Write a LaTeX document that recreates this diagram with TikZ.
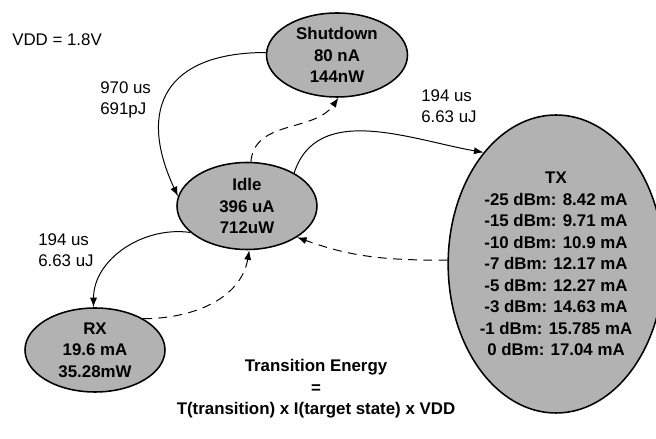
\documentclass[tikz,border=0pt]{standalone}
\usepackage{fontspec}
\setmainfont{Liberation Sans}
\usetikzlibrary{shapes.geometric,arrows.meta}
\tikzset{
  state/.style={ellipse, draw=black, line width=1.1pt, fill=black!30, inner sep=0pt, align=center, font=\fontsize{12}{15.3}\selectfont\bfseries},
  hop/.style={draw=black, line width=0.7pt, -{Latex[length=2.4mm,width=1.8mm]}},
  hopback/.style={hop, dash pattern=on 2.2mm off 1.6mm},
  note/.style={inner sep=0pt, anchor=west, align=left, font=\fontsize{12}{15.3}\selectfont},
  formula/.style={inner sep=0pt, align=center, font=\fontsize{12}{15.3}\selectfont\bfseries},
}
\begin{document}
\begin{tikzpicture}
\useasboundingbox (0,0) rectangle (16.4,10.975);
\node[state, minimum width=3.525cm, minimum height=2.1cm] (shutdown) at (8.425,9.6) {Shutdown\\80 nA\\144nW};
\node[state, minimum width=3.5cm, minimum height=2.175cm] (idle) at (6.175,5.825) {Idle\\396 uA\\712uW};
\node[state, minimum width=4.95cm, minimum height=7.45cm] (tx) at (13.9,4.375) {TX\\-25 dBm: 8.42 mA\\-15 dBm: 9.71 mA\\-10 dBm: 10.9 mA\\-7 dBm: 12.17 mA\\-5 dBm: 12.27 mA\\-3 dBm: 14.63 mA\\-1 dBm: 15.785 mA\\0 dBm: 17.04 mA};
\node[state, minimum width=3.5cm, minimum height=2.1cm] (rx) at (2.375,2.225) {RX\\19.6 mA\\35.28mW};
\node[note] (vdd) at (0.3,9.975) {VDD = 1.8V};
\node[note] (sdcost) at (2.5,8.475) {970 us\\691pJ};
\node[note] (txcost) at (10.525,8.325) {194 us\\6.63 uJ};
\node[note] (rxcost) at (0.95,4.725) {194 us\\6.63 uJ};
\node[formula] (energy) at (7.9,1.25) {Transition Energy\\=\\T(transition) x I(target state) x VDD};
\draw[hop] (shutdown.178) to[out=180, in=115, looseness=1.5] (idle.172);
\draw[hopback] (idle.85) to[out=85, in=-125] (shutdown.-88);
\draw[hop] (idle.35) to[out=72, in=170] (tx.123);
\draw[hopback] (tx.178) to[out=180, in=-20] (idle.-32);
\draw[hop] (idle.205) to[out=172, in=90] (rx.92);
\draw[hopback] (rx.33) to[out=0, in=-100] (idle.-87);
\end{tikzpicture}
\end{document}
